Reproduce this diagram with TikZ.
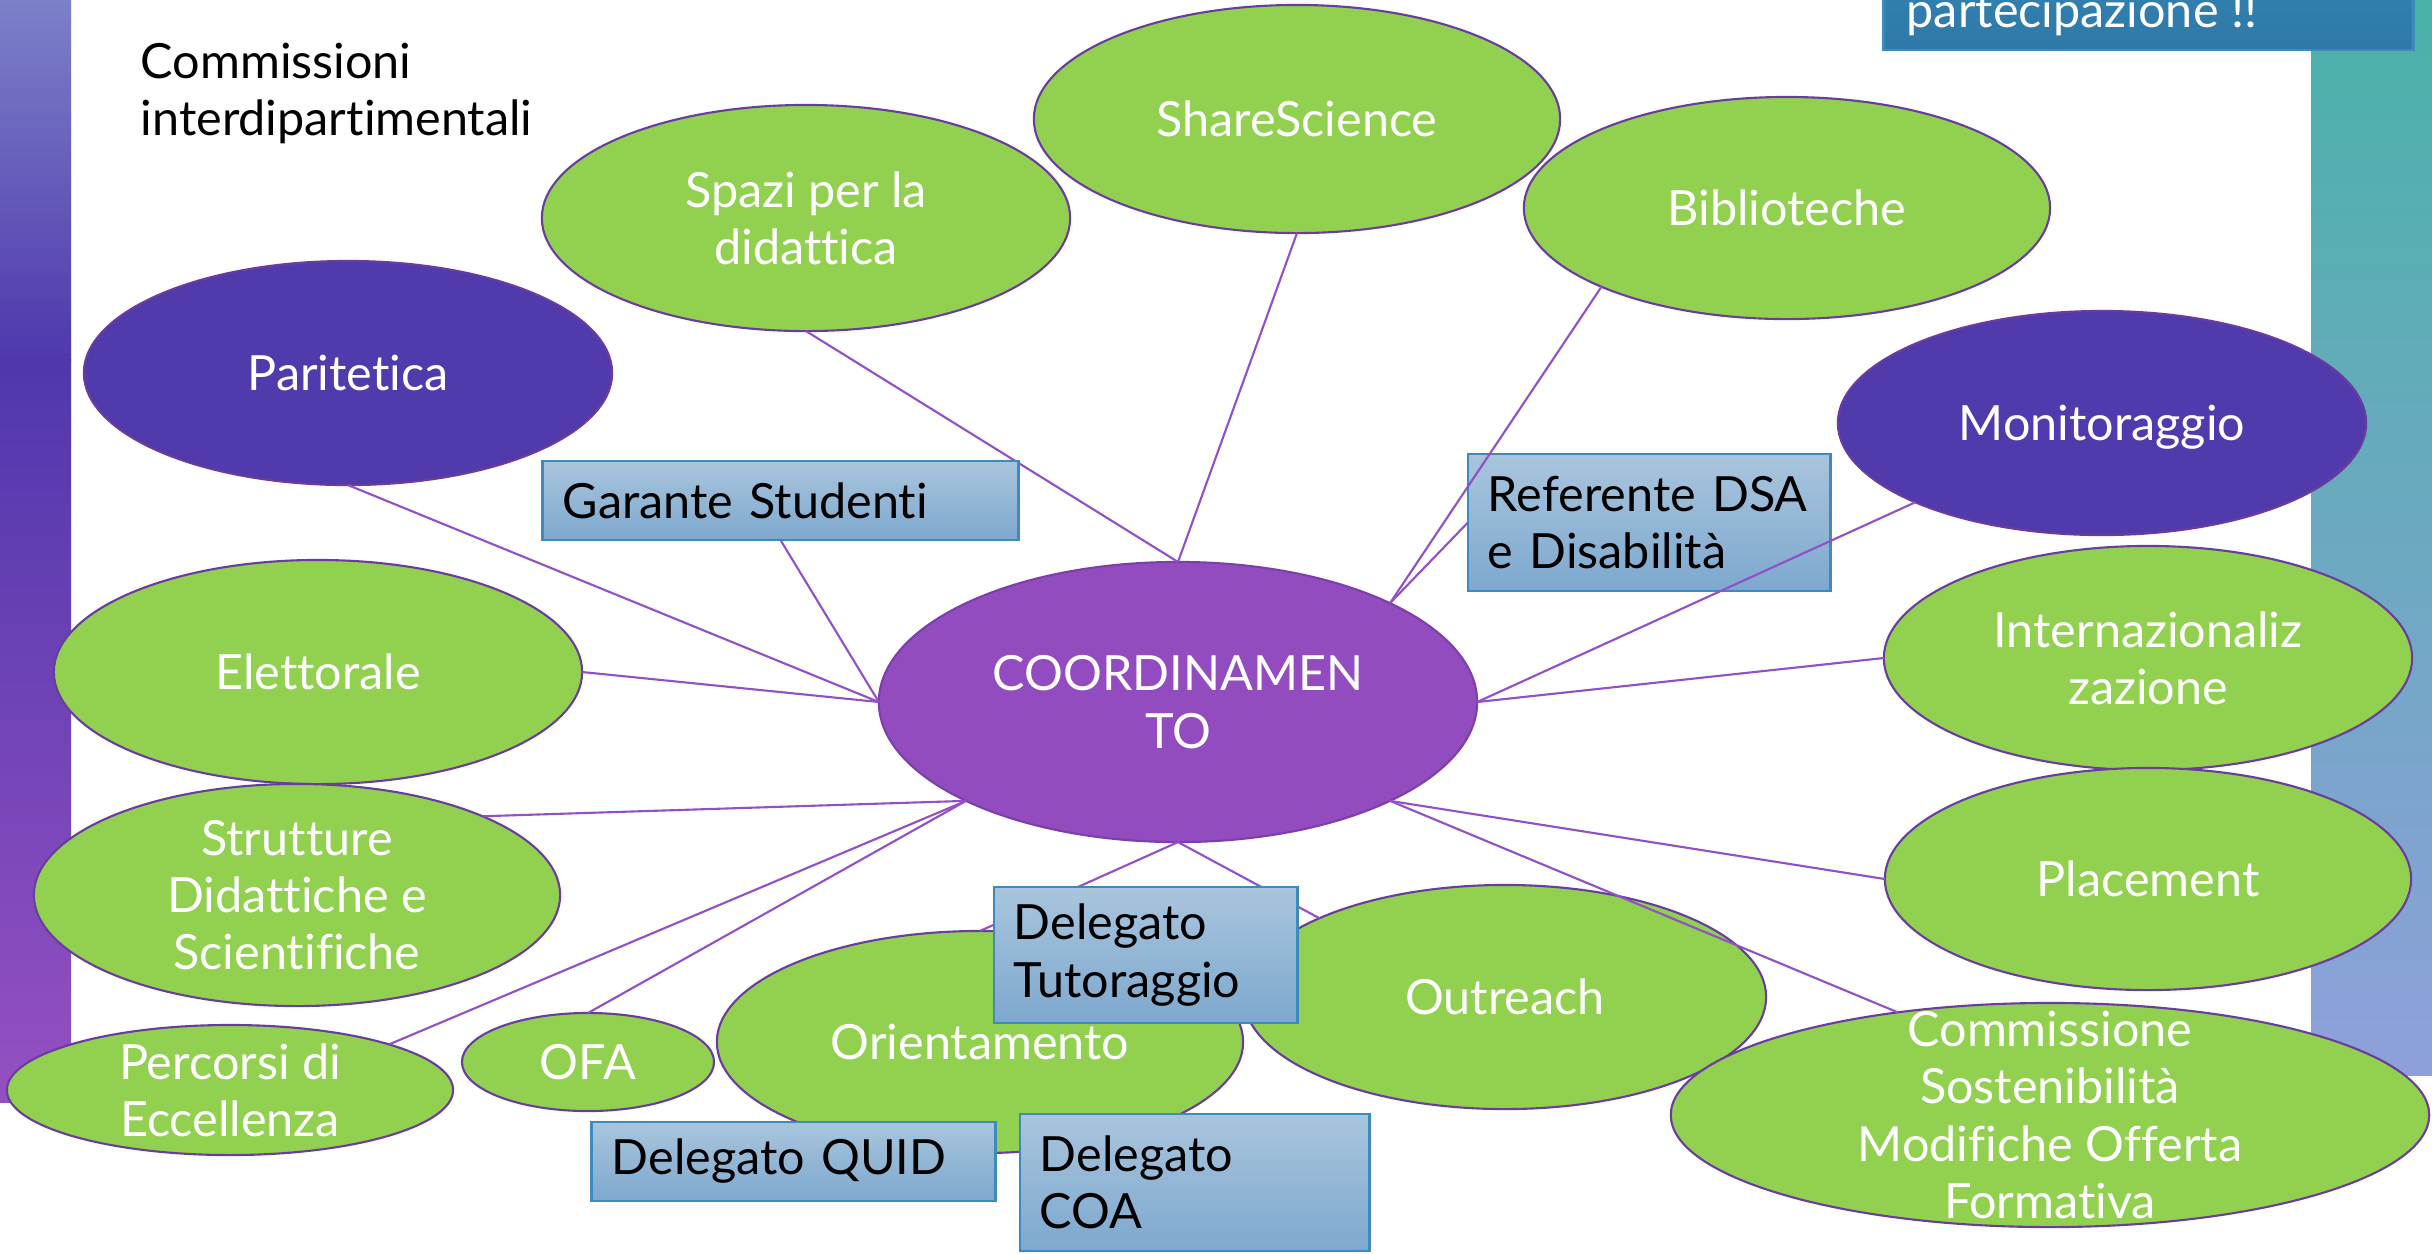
\documentclass[tikz,border=0pt]{standalone}
\usepackage{fontspec}
\setmainfont{Lato}[Ligatures=NoCommon]
\usetikzlibrary{shapes.geometric}
\definecolor{leaf}{HTML}{92D050}
\definecolor{leafedge}{HTML}{6A3C9E}
\definecolor{indigo}{HTML}{503AAC}
\definecolor{orchid}{HTML}{934CC0}
\definecolor{orchidedge}{HTML}{7A3FAA}
\definecolor{wire}{HTML}{914FC8}
\definecolor{boxtop}{HTML}{A9C5DD}
\definecolor{boxbot}{HTML}{7DA8CE}
\definecolor{boxedge}{HTML}{3F8ABD}
\definecolor{bantop}{HTML}{3889BA}
\definecolor{banbot}{HTML}{2D78A6}
\definecolor{lbartop}{HTML}{7C80C9}
\definecolor{lbarmid}{HTML}{4F38AC}
\definecolor{lbarbot}{HTML}{9550C2}
\definecolor{rbartop}{HTML}{4AB2A8}
\definecolor{rbarmid}{HTML}{3A8BBA}
\definecolor{rbarbot}{HTML}{8EA0DA}
\begin{document}
\begin{tikzpicture}[x=0.01cm,y=-0.01cm,
  txt/.style={font=\fontsize{13.8}{16.3}\selectfont, align=center, inner sep=0},
  wtxt/.style={txt, text=white},
  oval/.style={ellipse, draw=leafedge, line width=0.6pt, fill=leaf, inner sep=0, outer sep=0},
  darkoval/.style={oval, fill=indigo},
  hub/.style={oval, fill=orchid, draw=orchidedge},
  slab/.style={rectangle, draw=boxedge, line width=0.8pt, top color=boxtop, bottom color=boxbot,
    inner xsep=0.2cm, inner ysep=0, outer sep=0, align=left, text=black,
    font=\fontsize{13.8}{16.3}\selectfont},
  wire/.style={draw=wire, line width=0.6pt}
]
\clip (0,0) rectangle (2432,1253);
\fill[white] (0,0) rectangle (2432,1253);

% side bars: the left one darkens towards its upper middle, then turns purple
\shade[top color=lbartop, bottom color=lbarmid] (0,0) rectangle (71,360);
\shade[top color=lbarmid, bottom color=lbarbot] (0,359) rectangle (71,1102);
\shade[top color=rbartop, middle color=rbarmid, bottom color=rbarbot] (2311,0) rectangle (2432,1075);

% banner in the top right corner
\node[rectangle, draw=boxedge, line width=0.8pt, top color=bantop, bottom color=banbot,
  minimum width=5.29cm, minimum height=1.2cm, outer sep=0] (banner) at (2148.5,-10) {};
\node[txt, text=white, anchor=base west] (bannertext) at (1906,27) {partecipazione !!};

% title
\node[txt, align=left, anchor=north west] (title) at (140,42) {Commissioni\\interdipartimentali};

% ellipses
\node[darkoval, minimum width=5.28cm, minimum height=2.24cm] (parit) at (348,373) {};
\node[oval, minimum width=5.28cm, minimum height=2.26cm] (spazi) at (806,218) {};
\node[oval, minimum width=5.26cm, minimum height=2.28cm] (share) at (1297,119) {};
\node[oval, minimum width=5.26cm, minimum height=2.22cm] (biblio) at (1787,208) {};
\node[darkoval, minimum width=5.28cm, minimum height=2.24cm] (monit) at (2102,423) {};
\node[oval, minimum width=5.28cm, minimum height=2.24cm] (elett) at (318,672) {};
\node[hub, minimum width=5.98cm, minimum height=2.80cm] (coord) at (1178,702) {};
\node[oval, minimum width=5.28cm, minimum height=2.24cm] (inter) at (2148,658) {};
\node[oval, minimum width=5.26cm, minimum height=2.22cm] (place) at (2148,879) {};
\node[oval, minimum width=5.26cm, minimum height=2.22cm] (strut) at (297,895) {};
\node[oval, minimum width=4.46cm, minimum height=1.30cm] (perc) at (230,1090) {};
\node[oval, minimum width=2.52cm, minimum height=0.98cm] (ofa) at (588,1062) {};
\node[oval, minimum width=5.26cm, minimum height=2.22cm] (orient) at (980,1042) {};
\node[oval, minimum width=5.22cm, minimum height=2.24cm] (outr) at (1505,997) {};
\node[oval, minimum width=7.58cm, minimum height=2.24cm] (comm) at (2050,1115) {};

% connectors running under the boxes
\path[wire] (parit.south) -- (coord.west);
\path[wire] (elett.east) -- (coord.west);
\path[wire] (spazi.south) -- (coord.north);
\path[wire] (share.south) -- (coord.north);
\path[wire] (inter.west) -- (coord.east);
\path[wire] (place.west) -- (coord.335);
\path[wire] (comm.146) -- (coord.335);
\path[wire] (outr.157) -- (coord.south);
\path[wire] (orient.north) -- (coord.south);
\path[wire] (strut.23) -- (coord.205);
\path[wire] (perc.16) -- (coord.205);
\path[wire] (ofa.north) -- (coord.205);

% boxes
\node[slab, text width=4.35cm, minimum height=0.79cm] (garante) at (780.5,500.5) {Garante~Studenti};
\node[slab, text width=3.22cm, minimum height=1.37cm] (dsa) at (1649,522.5) {Referente~DSA\\e~Disabilità};
\node[slab, text width=2.63cm, minimum height=1.36cm] (tutor) at (1145.5,955) {Delegato\\Tutoraggio};
\node[slab, text width=3.63cm, minimum height=0.79cm] (quid) at (793.5,1161.5) {Delegato~QUID};
\node[slab, text width=3.09cm, minimum height=1.37cm] (coa) at (1194.5,1182.5) {Delegato\\COA};

% connectors drawn over the boxes
\path[wire] (garante.south) -- (coord.west);
\path[wire] (biblio.203) -- (coord.25);
\path[wire] (dsa.west) -- (coord.25);
\path[wire] (monit.203) -- (coord.east);

% ellipse labels
\node[wtxt] (paritT) at (parit) {Paritetica};
\node[wtxt] (spaziT) at (spazi) {Spazi per la\\didattica};
\node[wtxt] (shareT) at (share) {ShareScience};
\node[wtxt] (biblioT) at (biblio) {Biblioteche};
\node[wtxt] (monitT) at ([yshift=-0.04cm]monit.center) {Monitoraggio};
\node[wtxt] (elettT) at (elett) {Elettorale};
\node[wtxt] (coordT) at (coord) {COORDINAMEN\\TO};
\node[wtxt] (interT) at (inter) {Internazionaliz\\zazione};
\node[wtxt] (placeT) at (place) {Placement};
\node[wtxt] (strutT) at (strut) {Strutture\\Didattiche e\\Scientifiche};
\node[wtxt] (percT) at (perc) {Percorsi di\\Eccellenza};
\node[wtxt] (ofaT) at (ofa) {OFA};
\node[wtxt] (orientT) at (orient) {Orientamento};
\node[wtxt] (outrT) at (outr) {Outreach};
\node[wtxt] (commT) at (comm) {Commissione\\Sostenibilità\\Modifiche Offerta\\Formativa};
\end{tikzpicture}
\end{document}
